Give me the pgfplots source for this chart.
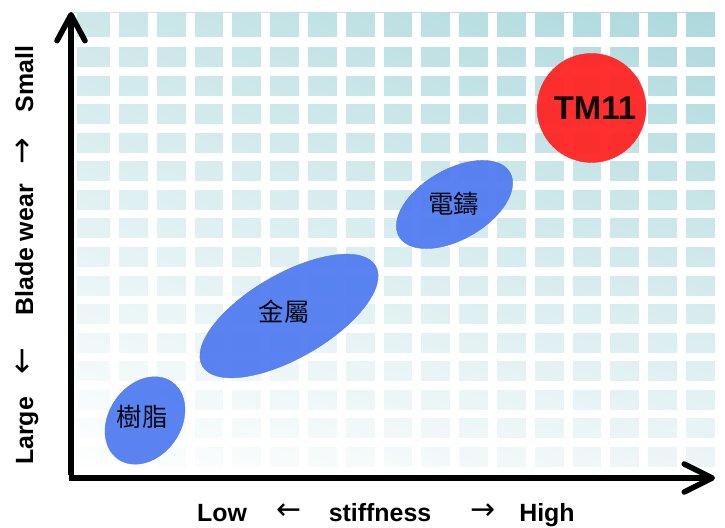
\documentclass[border=0pt]{standalone}
\usepackage{pgfplots}
\pgfplotsset{compat=1.18}
\usepackage{fontspec}
\setmainfont{Liberation Sans}
\newfontfamily\cjk{Noto Sans CJK TC}
\newfontfamily\arrowfont{DejaVu Sans}
\usetikzlibrary{arrows.meta,shadings}
\definecolor{blobblue}{RGB}{78,122,240}
\definecolor{blobred}{RGB}{255,35,35}
\definecolor{tUL}{RGB}{206,232,234}
\definecolor{tUR}{RGB}{172,217,221}
\definecolor{tLR}{RGB}{238,246,247}
\begin{document}
\begin{tikzpicture}[x=1bp,y=1bp]
\path (0,0) rectangle (725,527);
% background grid (decoration)
\shade[upper left=tUL, upper right=tUR, lower left=white, lower right=tLR] (71,49) rectangle (714.8,514);
\fill[white] (71,49) rectangle (77,514);
\foreach \k in {0,...,15} { \fill[white] ({110+37.8*\k},49) rectangle ({119+37.8*\k},514); }
\fill[white] (71,480) rectangle (714.8,490);
\foreach \k in {0,...,14} { \fill[white] (71,{451.43-28.57*\k}) rectangle (714.8,{460-28.57*\k}); }
\begin{axis}[at={(0,0)}, anchor=south west, scale only axis,
  width=725bp, height=527bp, xmin=0, xmax=725, ymin=0, ymax=527,
  hide axis, clip=false,
  nodes near coords align=center,
  every node near coord/.append style={text=black, anchor=center}]
% resin
\addplot[color=blobblue, only marks, mark=*, mark size=36bp,
  mark options={draw=none, fill=blobblue, fill opacity=0.93, rotate=55, xscale=47/36},
  nodes near coords={\cjk\fontsize{25.5}{28}\selectfont 樹脂},
  every node near coord/.append style={xshift=-3bp, yshift=4bp}]
  coordinates {(145,106.5)};
% metal
\addplot[color=blobblue, only marks, mark=*, mark size=42bp,
  mark options={draw=none, fill=blobblue, fill opacity=0.93, rotate=30, xscale=100/42},
  nodes near coords={\cjk\fontsize{25.5}{28}\selectfont 金屬},
  every node near coord/.append style={xshift=-5bp, yshift=4.5bp}]
  coordinates {(289,211)};
% electroformed
\addplot[color=blobblue, only marks, mark=*, mark size=35bp,
  mark options={draw=none, fill=blobblue, fill opacity=0.93, rotate=30, xscale=64/35},
  nodes near coords={\cjk\fontsize{25.5}{28}\selectfont 電鑄},
  every node near coord/.append style={xshift=-1bp, yshift=1bp}]
  coordinates {(454.5,322.5)};
% TM11
\addplot[color=blobred, only marks, mark=*, mark size=54.5bp,
  mark options={draw=none, fill=blobred, fill opacity=0.94},
  nodes near coords={\fontsize{33}{36}\selectfont\bfseries TM11},
  every node near coord/.append style={xshift=3.5bp, yshift=-0.5bp}]
  coordinates {(591.5,419)};
\end{axis}
% axes arrows
\draw[line width=5.5bp, -{Straight Barb[length=26bp, width=28bp, round]}] (71,51.5) -- (71,515);
\draw[line width=5.5bp, -{Straight Barb[length=28bp, width=28bp, round]}] (68.5,49) -- (715,49);
% axis labels
\begin{scope}[every node/.style={font=\fontsize{25}{28}\selectfont\bfseries, anchor=base, inner sep=0pt}]
\node at (222,5) {Low};
\node at (380,5) {stiffness};
\node at (547,5) {High};
\node[rotate=90] at (33,448) {Small};
\node[rotate=90] at (33,277) {Blade wear};
\node[rotate=90] at (33,96) {Large};
\end{scope}
\begin{scope}[every node/.style={font=\arrowfont\mdseries\fontsize{30}{32}\selectfont, inner sep=0pt}]
\node[anchor=base] at (289,7.6) {←};
\node[anchor=base] at (483,7.6) {→};
\node[anchor=center, rotate=90] at (24,376) {\fontsize{32}{34}\selectfont →};
\node[anchor=center, rotate=90] at (24,166) {\fontsize{32}{34}\selectfont ←};
\end{scope}
\end{tikzpicture}
\end{document}
